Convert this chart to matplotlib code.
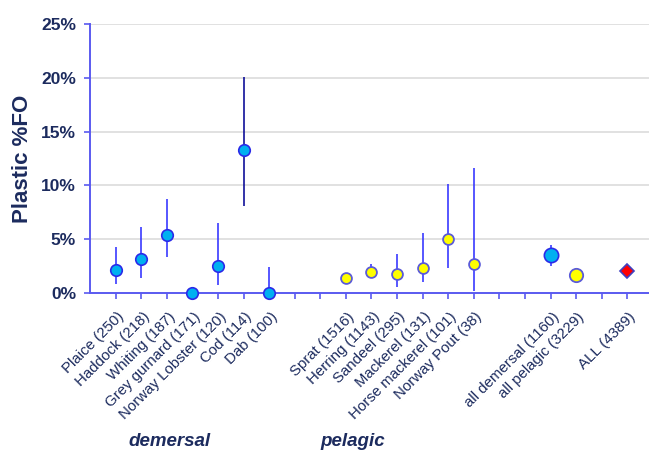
import matplotlib
matplotlib.use("Agg")
import matplotlib.pyplot as plt
import numpy as np

plt.rcParams['font.family'] = ['Liberation Sans', 'DejaVu Sans']

# ---- data (values in %) ----
demersal_labels = ["Plaice (250)", "Haddock (218)", "Whiting (187)", "Grey gurnard (171)",
                   "Norway Lobster (120)", "Cod (114)", "Dab (100)"]
demersal_fo = [2.1, 3.2, 5.4, 0.0, 2.5, 13.25, 0.0]
demersal_lo = [0.8, 1.4, 3.3, 0.0, 0.7, 8.05, 0.0]
demersal_hi = [4.3, 6.1, 8.75, 0.0, 6.5, 20.1, 2.4]

pelagic_labels = ["Sprat (1516)", "Herring (1143)", "Sandeel (295)", "Mackerel (131)",
                  "Horse mackerel (101)", "Norway Pout (38)"]
pelagic_fo = [1.4, 1.95, 1.75, 2.3, 5.0, 2.65]
pelagic_lo = [1.0, 1.4, 0.6, 1.0, 2.3, 0.2]
pelagic_hi = [1.8, 2.7, 3.6, 5.55, 10.1, 11.65]

agg_labels = ["all demersal (1160)", "all pelagic (3229)"]
agg_fo = [3.5, 1.7]
agg_lo = [2.5, 1.4]
agg_hi = [4.5, 2.0]

all_label = "ALL (4389)"
all_fo = 2.07
all_lo = 1.8
all_hi = 2.4

yticks = [0, 5, 10, 15, 20, 25]

# ---- layout positions ----
gap = 2
x_dem = np.arange(1, len(demersal_labels) + 1)
x_pel = np.arange(x_dem[-1] + 1 + gap, x_dem[-1] + 1 + gap + len(pelagic_labels))
x_agg = np.arange(x_pel[-1] + 1 + gap, x_pel[-1] + 1 + gap + len(agg_labels))
x_all = x_agg[-1] + 2

navy = '#1C2B5E'
axblue = '#5A5AF0'
blue_fill = '#00B0F0'
edge = '#2A2AE8'
yel_edge = '#5B5BD8'
err_c = '#3A3AFF'

fig = plt.figure(figsize=(6.49, 4.5), dpi=100)
ax = fig.add_axes([90/649, 157/450, 559/649, 269/450])

def errs(x, lo, hi, color=err_c, lw=1.2):
    ax.vlines(x, lo, hi, colors=color, lw=lw, zorder=2)

# demersal
for i, (x, l, h) in enumerate(zip(x_dem, demersal_lo, demersal_hi)):
    c = '#10109A' if demersal_labels[i].startswith('Cod') else err_c
    errs(x, l, h, color=c)
ax.plot(x_dem, demersal_fo, 'o', ms=8.3, mfc=blue_fill, mec=edge, mew=1.2, ls='none', zorder=3, clip_on=False)

# pelagic
errs(x_pel, pelagic_lo, pelagic_hi)
ax.plot(x_pel, pelagic_fo, 'o', ms=7.8, mfc='#FFFF00', mec=yel_edge, mew=1.3, ls='none', zorder=3)

# aggregates
errs(x_agg, agg_lo, agg_hi)
ax.plot(x_agg[0], agg_fo[0], 'o', ms=10.3, mfc=blue_fill, mec=edge, mew=1.2, zorder=3)
ax.plot(x_agg[1], agg_fo[1], 'o', ms=9.6, mfc='#FFFF00', mec=yel_edge, mew=1.3, zorder=3)

# ALL
errs([x_all], [all_lo], [all_hi])
ax.plot(x_all, all_fo, 'D', ms=7.5, mfc='#FF0000', mec='#4040C0', mew=1.2, zorder=3)

ax.set_xlim(0, 21.85)
ax.set_ylim(0, 25)

for yv in yticks[1:]:
    ax.axhline(yv, color='#DCDCDC', lw=1.2, zorder=0)

ax.set_yticks(yticks)
ax.set_yticklabels([f"{v}%" for v in yticks], fontsize=12.5, fontweight='bold', color=navy)
ax.tick_params(axis='y', direction='out', length=4, color=axblue, width=1.2, pad=6)

all_ticks = np.arange(1, 22)
ax.set_xticks(all_ticks)
ax.set_xticklabels([])
ax.tick_params(axis='x', direction='out', length=4, color=axblue, width=1.2)

for s in ['top', 'right']:
    ax.spines[s].set_visible(False)
for s in ['left', 'bottom']:
    ax.spines[s].set_color(axblue)
    ax.spines[s].set_linewidth(1.4)

labels = demersal_labels + pelagic_labels + agg_labels + [all_label]
xs = list(x_dem) + list(x_pel) + list(x_agg) + [x_all]
for x, lab in zip(xs, labels):
    ax.annotate(lab, xy=(x, 0), xycoords=('data', 'axes fraction'),
                xytext=(1, -12), textcoords='offset points',
                rotation=45, rotation_mode='anchor', ha='right', va='top',
                fontsize=10.8, color=navy)

ax.set_ylabel("Plastic %FO", fontsize=16, fontweight='bold', color=navy, labelpad=6)

fig.text(170/649, 1 - 441/450, "demersal", ha='center', va='center',
         fontsize=13.5, fontweight='bold', style='italic', color=navy)
fig.text(353/649, 1 - 441/450, "pelagic", ha='center', va='center',
         fontsize=13.5, fontweight='bold', style='italic', color=navy)

fig.savefig("out.png", dpi=100)
